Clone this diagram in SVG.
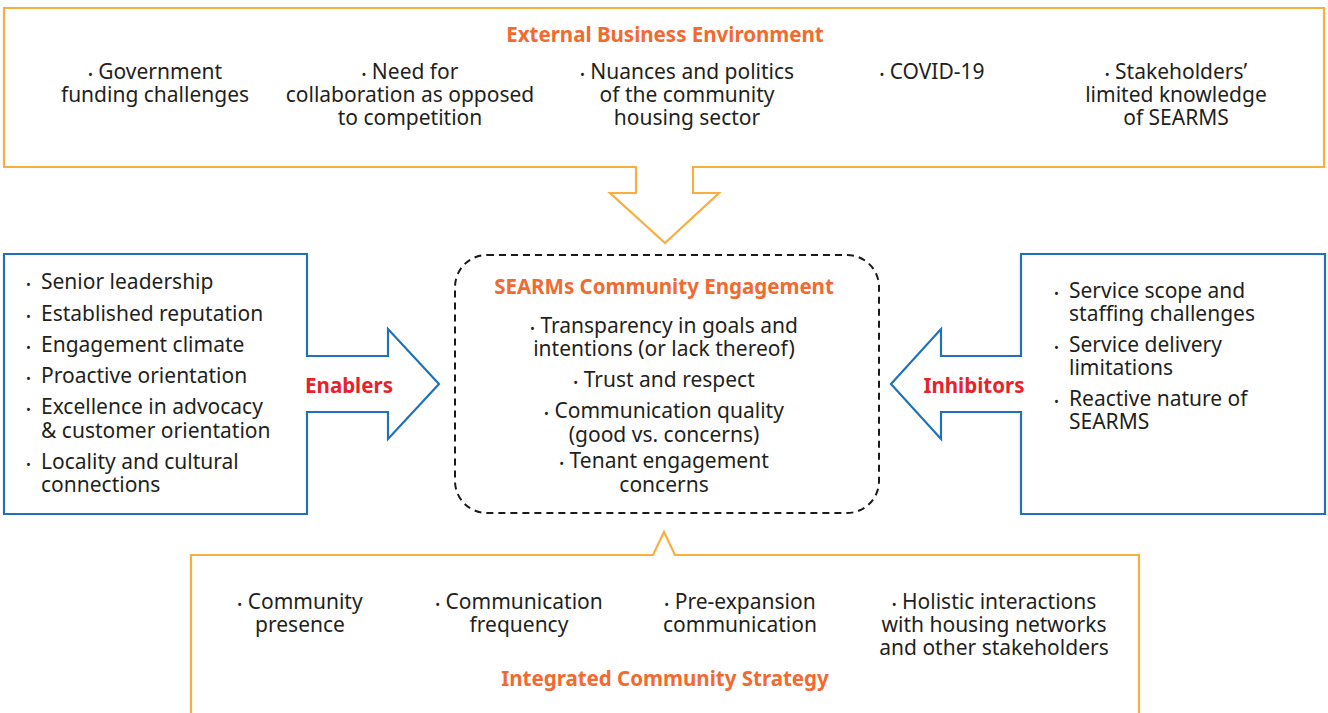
<svg xmlns="http://www.w3.org/2000/svg" width="1328" height="713" viewBox="0 0 1328 713">
  <style>
    .frame-or { fill: #ffffff; stroke: #F9AE40; stroke-width: 2.2; stroke-linejoin: miter; }
    .frame-bl { fill: #ffffff; stroke: #1F72B8; stroke-width: 2.2; stroke-linejoin: miter; }
    .dash { fill: #ffffff; stroke: #1a1a1a; stroke-width: 2; stroke-dasharray: 7 5; }
    .t { font-family: "Noto Sans", "Liberation Sans", sans-serif; font-size: 21px; fill: #231F20; }
    .c { text-anchor: middle; }
    .head { font-family: "Noto Sans", "Liberation Sans", sans-serif; font-size: 20.5px; font-weight: 700; fill: #F26A30; text-anchor: middle; }
    .lab { font-family: "Noto Sans", "Liberation Sans", sans-serif; font-size: 20.5px; font-weight: 700; fill: #E8222B; text-anchor: middle; }
    .b { font-size: 13px; }
  </style>

  <g id="connectors">
    <!-- outlined block arrows are drawn as part of each frame outline -->
  </g>

  <!-- External business environment -->
  <g id="external">
    <path class="frame-or" d="M4,8 H1324 V167 H693 V193 H719 L665,243 L610,193 H636 V167 H4 Z"/>
    <text class="head" x="665" y="42">External Business Environment</text>
    <text class="t c" y="79"><tspan x="155"><tspan class="b">•</tspan> Government</tspan><tspan x="155" dy="23">funding challenges</tspan></text>
    <text class="t c" y="79"><tspan x="410"><tspan class="b">•</tspan> Need for</tspan><tspan x="410" dy="23">collaboration as opposed</tspan><tspan x="410" dy="23">to competition</tspan></text>
    <text class="t c" y="79"><tspan x="687"><tspan class="b">•</tspan> Nuances and politics</tspan><tspan x="687" dy="23">of the community</tspan><tspan x="687" dy="23">housing sector</tspan></text>
    <text class="t c" x="932" y="79"><tspan class="b">•</tspan> COVID-19</text>
    <text class="t c" y="79"><tspan x="1176"><tspan class="b">•</tspan> Stakeholders’</tspan><tspan x="1176" dy="23">limited knowledge</tspan><tspan x="1176" dy="23">of SEARMS</tspan></text>
  </g>

  <!-- Enablers -->
  <g id="enablers">
    <path class="frame-bl" d="M4,254 H307 V356 H388 V329 L439,384 L388,439 V412 H307 V514 H4 Z"/>
    <text class="lab" x="349" y="393">Enablers</text>
    <g class="t">
      <text x="26" y="289" class="b">•</text><text x="41" y="289">Senior leadership</text>
      <text x="26" y="321" class="b">•</text><text x="41" y="321">Established reputation</text>
      <text x="26" y="352" class="b">•</text><text x="41" y="352">Engagement climate</text>
      <text x="26" y="383" class="b">•</text><text x="41" y="383">Proactive orientation</text>
      <text x="26" y="414" class="b">•</text><text y="414"><tspan x="41">Excellence in advocacy</tspan><tspan x="41" dy="24">&amp; customer orientation</tspan></text>
      <text x="26" y="469" class="b">•</text><text y="469"><tspan x="41">Locality and cultural</tspan><tspan x="41" dy="23">connections</tspan></text>
    </g>
  </g>

  <!-- Inhibitors -->
  <g id="inhibitors">
    <path class="frame-bl" d="M1021,254 H1325 V514 H1021 V412 H941 V439 L891,384 L941,329 V356 H1021 Z"/>
    <text class="lab" x="974" y="393">Inhibitors</text>
    <g class="t">
      <text x="1054" y="298" class="b">•</text><text y="298"><tspan x="1069">Service scope and</tspan><tspan x="1069" dy="23">staffing challenges</tspan></text>
      <text x="1054" y="352" class="b">•</text><text y="352"><tspan x="1069">Service delivery</tspan><tspan x="1069" dy="23">limitations</tspan></text>
      <text x="1054" y="406" class="b">•</text><text y="406"><tspan x="1069">Reactive nature of</tspan><tspan x="1069" dy="23">SEARMS</tspan></text>
    </g>
  </g>

  <!-- Core: community engagement -->
  <g id="engagement">
    <rect class="dash" x="455" y="255" width="424" height="258" rx="32" ry="32"/>
    <text class="head" x="664" y="294">SEARMs Community Engagement</text>
    <text class="t c" y="333"><tspan x="664"><tspan class="b">•</tspan> Transparency in goals and</tspan><tspan x="664" dy="23">intentions (or lack thereof)</tspan></text>
    <text class="t c" x="664" y="387"><tspan class="b">•</tspan> Trust and respect</text>
    <text class="t c" y="418"><tspan x="664"><tspan class="b">•</tspan> Communication quality</tspan><tspan x="664" dy="24">(good vs. concerns)</tspan></text>
    <text class="t c" y="468"><tspan x="664"><tspan class="b">•</tspan> Tenant engagement</tspan><tspan x="664" dy="24">concerns</tspan></text>
  </g>

  <!-- Integrated community strategy -->
  <g id="strategy">
    <path class="frame-or" d="M191,720 V555 H653 L664,532 L675,555 H1139 V720"/>
    <text class="t c" y="609"><tspan x="300"><tspan class="b">•</tspan> Community</tspan><tspan x="300" dy="23">presence</tspan></text>
    <text class="t c" y="609"><tspan x="519"><tspan class="b">•</tspan> Communication</tspan><tspan x="519" dy="23">frequency</tspan></text>
    <text class="t c" y="609"><tspan x="740"><tspan class="b">•</tspan> Pre-expansion</tspan><tspan x="740" dy="23">communication</tspan></text>
    <text class="t c" y="609"><tspan x="994"><tspan class="b">•</tspan> Holistic interactions</tspan><tspan x="994" dy="23">with housing networks</tspan><tspan x="994" dy="23">and other stakeholders</tspan></text>
    <text class="head" x="665" y="686">Integrated Community Strategy</text>
  </g>
</svg>
